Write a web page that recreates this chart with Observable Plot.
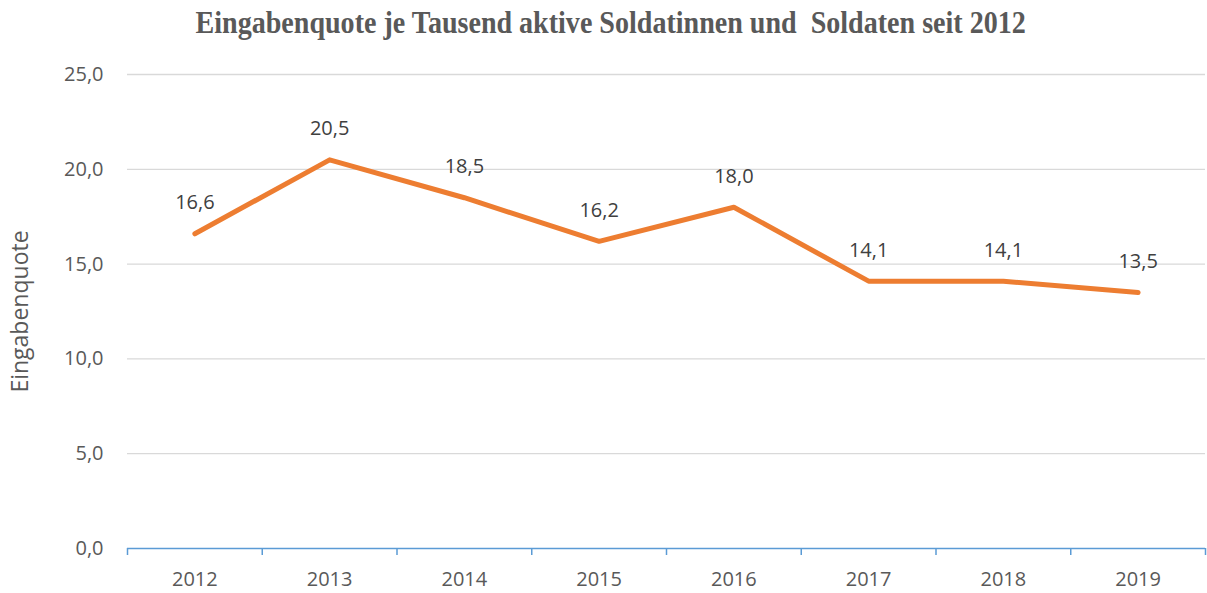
<!DOCTYPE html>
<html><head><meta charset="utf-8">
<script src="https://cdn.jsdelivr.net/npm/d3@7"></script>
<script src="https://cdn.jsdelivr.net/npm/@observablehq/plot@0.6"></script>
<style>
body{margin:0;background:#fff;width:1207px;height:593px;overflow:hidden}
#title{height:40px;line-height:46px;text-align:center;font-family:"Liberation Serif","Times New Roman",serif;font-weight:bold;font-size:31px;color:#595959;white-space:pre;padding-left:14px}
#title span{display:inline-block;transform:scaleX(0.905)}
</style></head>
<body>
<div id="title"><span>Eingabenquote je Tausend aktive Soldatinnen und  Soldaten seit 2012</span></div>
<div id="chart"></div>
<script>
const years = [2012, 2013, 2014, 2015, 2016, 2017, 2018, 2019];
const quote = [16.6, 20.5, 18.5, 16.2, 18.0, 14.1, 14.1, 13.5];
const yTicks = [0, 5, 10, 15, 20, 25];
const yLabel = "Eingabenquote";

const data = years.map((y, i) => ({year: y, value: quote[i]}));
const boundaries = [...years.map(y => y - 0.5), years[years.length - 1] + 0.5];
const fmt = d => d.toFixed(1).replace(".", ",");

const chart = Plot.plot({
  width: 1207,
  height: 553,
  marginLeft: 127,
  marginRight: 2,
  marginTop: 34,
  marginBottom: 45,
  style: {fontFamily: "'Open Sans', sans-serif", fontSize: "20px", color: "#595959", background: "#fff"},
  x: {type: "linear", domain: [boundaries[0], boundaries[boundaries.length - 1]]},
  y: {domain: [0, 25]},
  marks: [
    Plot.gridY(yTicks.filter(d => d > 0), {stroke: "#d9d9d9", strokeOpacity: 1, strokeWidth: 1.3}),
    Plot.axisY({ticks: yTicks, tickFormat: fmt, tickSize: 0, tickPadding: 24, fontSize: 20, fill: "#595959", label: null}),
    Plot.axisY({ticks: [], label: yLabel, labelAnchor: "center", labelOffset: 116, labelArrow: "none", fontSize: 23, fill: "#595959"}),
    Plot.ruleY([0], {stroke: "#5b9bd5", strokeWidth: 1.5}),
    Plot.axisX({ticks: boundaries, tickFormat: () => "", tickSize: 7, stroke: "#5b9bd5", strokeWidth: 1.5, strokeOpacity: 1, label: null}),
    Plot.axisX({ticks: years, tickFormat: d => String(d), tickSize: 0, tickPadding: 23, fontSize: 20, fill: "#595959", label: null}),
    Plot.line(data, {x: "year", y: "value", stroke: "#ed7d31", strokeWidth: 5, strokeLinecap: "round", strokeLinejoin: "round"}),
    Plot.text(data, {x: "year", y: "value", text: d => fmt(d.value), dy: -31, fontSize: 20, fill: "#404040"})
  ]
});
document.getElementById("chart").appendChild(chart);
</script>
</body></html>
